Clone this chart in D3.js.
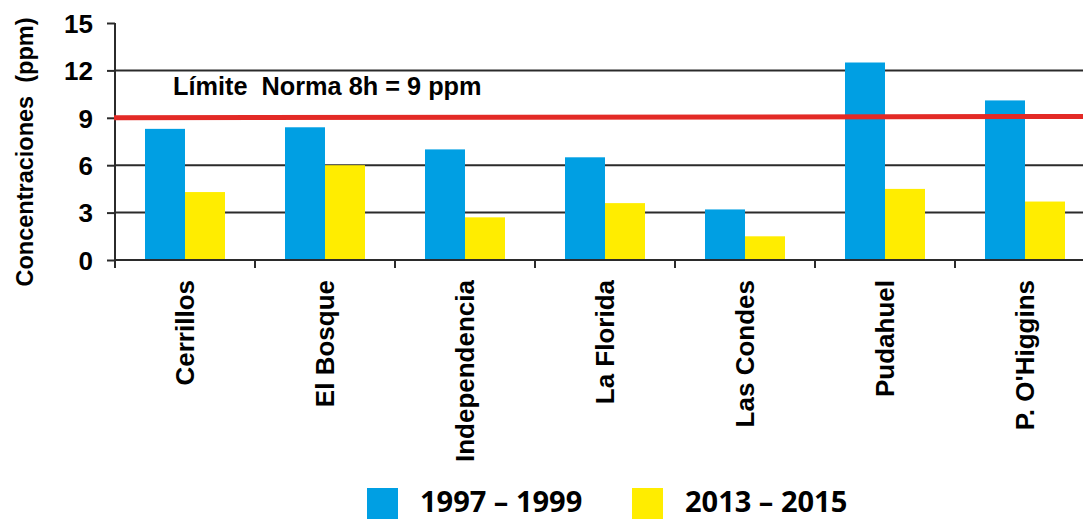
<!DOCTYPE html>
<html>
<head>
<meta charset="utf-8">
<script src="https://cdn.jsdelivr.net/npm/d3@7"></script>
<style>
  html, body { margin: 0; padding: 0; background: #fff; }
  svg { display: block; }
  text { font-family: "Liberation Sans", Arial, sans-serif; font-weight: bold; fill: #000; }
</style>
</head>
<body>
<svg id="chart" width="1083" height="520"></svg>
<script>
const categories = ["Cerrillos", "El Bosque", "Independencia", "La Florida", "Las Condes", "Pudahuel", "P. O'Higgins"];
const seriesNames = ["1997 – 1999", "2013 – 2015"];
const values1997 = [8.3, 8.4, 7.0, 6.5, 3.2, 12.5, 10.1];
const values2013 = [4.3, 6.0, 2.7, 3.6, 1.5, 4.5, 3.7];
const seriesColors = ["#009FE3", "#FFED00"];
const yTicks = [0, 3, 6, 9, 12, 15];
const gridTicks = [0, 3, 6, 12];
const limitLine = [9, 9.08];
const limitLabel = "Límite  Norma 8h = 9 ppm";
const yTitle = "Concentraciones  (ppm)";

const W = 1083, H = 520;
const svg = d3.select("#chart");

const x0 = d3.scaleBand().domain(categories).range([115, 1095]).paddingInner(0).paddingOuter(0);
const x1 = d3.scaleBand().domain(seriesNames).range([0, x0.bandwidth()]).paddingInner(0).paddingOuter(0.75);
const y = d3.scaleLinear().domain([0, 15]).range([260, 23]);

const data = categories.map((c, i) => ({ cat: c, vals: [values1997[i], values2013[i]] }));

// gridlines
svg.append("g").selectAll("line").data(gridTicks).join("line")
  .attr("x1", 115).attr("x2", W)
  .attr("y1", d => y(d)).attr("y2", d => y(d))
  .attr("stroke", "#2b2b2b").attr("stroke-width", 2);

// bars
const groups = svg.append("g").selectAll("g").data(data).join("g")
  .attr("transform", d => `translate(${x0(d.cat)},0)`);
groups.selectAll("rect").data(d => d.vals.map((v, j) => ({ name: seriesNames[j], v, j })))
  .join("rect")
  .attr("x", d => x1(d.name))
  .attr("width", x1.bandwidth())
  .attr("y", d => y(d.v))
  .attr("height", d => y(0) - y(d.v))
  .attr("fill", d => seriesColors[d.j]);

// baseline redraw
svg.append("line").attr("x1", 115).attr("x2", W).attr("y1", y(0)).attr("y2", y(0))
  .attr("stroke", "#2b2b2b").attr("stroke-width", 2);

// y axis
const yAxis = d3.axisLeft(y).tickValues(yTicks).tickSize(8).tickPadding(14).tickFormat(d3.format("d"));
const yg = svg.append("g").attr("transform", "translate(115,0)").call(yAxis);
yg.select(".domain").remove();
yg.selectAll(".tick line").attr("stroke", "#2b2b2b").attr("stroke-width", 2);
yg.selectAll(".tick text").attr("font-size", 26).attr("font-family", "Liberation Sans, Arial, sans-serif")
  .attr("font-weight", "bold").attr("fill", "#000").attr("dy", "0.36em");
svg.append("line").attr("x1", 115).attr("x2", 115).attr("y1", y(15)).attr("y2", y(0) + 8)
  .attr("stroke", "#2b2b2b").attr("stroke-width", 2);

// x ticks at band boundaries
const boundaries = categories.slice(1).map(c => x0(c));
svg.append("g").selectAll("line").data(boundaries).join("line")
  .attr("x1", d => d).attr("x2", d => d).attr("y1", y(0)).attr("y2", y(0) + 8)
  .attr("stroke", "#2b2b2b").attr("stroke-width", 2);

// x labels
svg.append("g").selectAll("text").data(categories).join("text")
  .attr("transform", d => `translate(${x0(d) + x0.bandwidth() / 2},${y(0) + 20}) rotate(-90)`)
  .attr("text-anchor", "end").attr("dy", "0.36em")
  .attr("font-size", 26)
  .text(d => d);

// limit line
const lx = d3.scaleLinear().domain([0, 1]).range([114, W]);
svg.append("line")
  .attr("x1", lx(0)).attr("x2", lx(1))
  .attr("y1", y(limitLine[0])).attr("y2", y(limitLine[1]))
  .attr("stroke", "#E32A26").attr("stroke-width", 5);

svg.append("text").attr("x", 173).attr("y", 95).attr("font-size", 25.3)
  .style("white-space", "pre").text(limitLabel);

// y title
svg.append("text").attr("transform", `translate(33,${152}) rotate(-90)`)
  .attr("text-anchor", "middle").attr("font-size", 23.5)
  .style("white-space", "pre").text(yTitle);

// legend
const legX = [367, 632];
const lg = svg.append("g").selectAll("g").data(seriesNames).join("g")
  .attr("transform", (d, i) => `translate(${legX[i]},488)`);
lg.append("rect").attr("width", 31).attr("height", 31).attr("fill", (d, i) => seriesColors[i]);
lg.append("text").attr("x", 53).attr("y", 24)
  .attr("font-size", 29).style("font-family", "'Open Sans', sans-serif").style("font-weight", 700)
  .text(d => d);
</script>
</body>
</html>
